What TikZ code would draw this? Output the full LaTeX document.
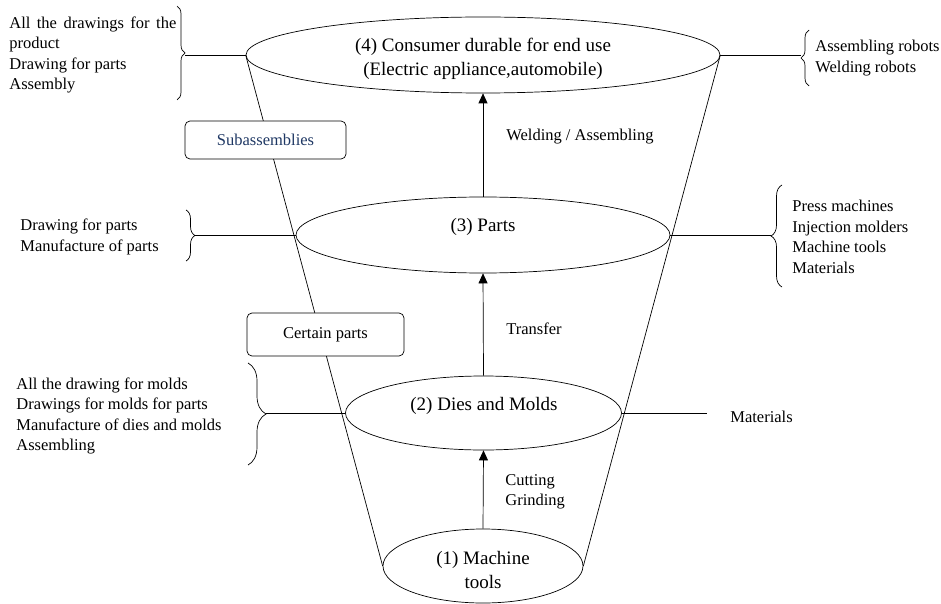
\documentclass[tikz,border=0pt]{standalone}
\usepackage{fontspec}
\setmainfont{Liberation Serif}
\usetikzlibrary{shapes.geometric,decorations.pathreplacing,arrows.meta}
\definecolor{subblue}{RGB}{31,56,100}
\begin{document}
\begin{tikzpicture}[x=1pt,y=-1pt, line width=0.7pt,
  ell/.style={draw, ellipse, inner sep=0pt},
  etxt/.style={inner sep=0pt, align=center, font=\fontsize{19}{24.5}\selectfont},
  lbl/.style={inner sep=0pt, align=left, font=\fontsize{16.5}{20.5}\selectfont},
  box/.style={draw, fill=white, rounded corners=5pt, inner sep=0pt, font=\fontsize{16.5}{20.5}\selectfont},
  brc/.style={decorate, decoration={brace, amplitude=#1}},
  arr/.style={-{Triangle[length=10pt,width=9pt]}}
]
\useasboundingbox (0,0) rectangle (941,604);

% ellipses
\node[ell, minimum width=474pt, minimum height=76pt] (top) at (483,55) {};
\node[ell, minimum width=374pt, minimum height=76pt] (parts) at (483,235) {};
\node[ell, minimum width=276pt, minimum height=74pt] (dies) at (483.5,413) {};
\node[ell, minimum width=200pt, minimum height=74pt] (mach) at (483,566) {};

% funnel sides
\draw (top.west) -- (mach.west);
\draw (top.east) -- (mach.east);

% ellipse texts
\node[etxt] (e4) at (483,59) {(4) Consumer durable for end use\\(Electric appliance,automobile)};
\node[etxt] (e3) at (483,227) {(3) Parts};
\node[etxt] (e2) at (484,406) {(2) Dies and Molds};
\node[etxt] (e1) at (483,570) {(1) Machine\\tools};

% arrows
\draw[arr] (mach.north) -- (dies.south);
\draw[arr] (dies.north) -- (parts.south);
\draw[arr] (parts.north) -- (top.south);

% boxes
\node[box, minimum width=161pt, minimum height=38pt, text=subblue] (sub) at (265.5,140) {Subassemblies};
\node[box, minimum width=157pt, minimum height=43pt] (cert) at (325.5,334.5) {Certain parts};

% braces and connectors
\draw[brc=8pt] (177,6) -- (177,100);
\coordinate (b1) at (185,53);
\draw (top.west) -- (top.west -| b1);

\draw[brc=8pt] (809,86) -- (809,30);
\coordinate (b2) at (801,58);
\draw (top.east) -- (top.east -| b2);

\draw[brc=9pt] (186,210) -- (186,261);
\coordinate (b3) at (195,235.5);
\draw (parts.west) -- (parts.west -| b3);

\draw[brc=11pt] (782,287) -- (782,185);
\coordinate (b4) at (771,236);
\draw (parts.east) -- (parts.east -| b4);

\draw[brc=18pt] (248,363) -- (248,465);
\coordinate (b5) at (266,414);
\draw (dies.west) -- (dies.west -| b5);

\coordinate (m) at (707,413);
\draw (dies.east) -- (m);

% side texts
\node[lbl, anchor=west] (t1) at (9,55) {\makebox[167pt][s]{All the drawings for the}\\product\\Drawing for parts\\Assembly};
\node[lbl, anchor=west] (t2) at (815,58) {Assembling robots\\Welding robots};
\node[lbl, anchor=west] (t3) at (20,237) {Drawing for parts\\Manufacture of parts};
\node[lbl, anchor=west] (t4) at (792,237) {Press machines\\Injection molders\\Machine tools\\Materials};
\node[lbl, anchor=west] (t5) at (16,416) {All the drawing for molds\\Drawings for molds for parts\\Manufacture of dies and molds\\Assembling};
\node[lbl, anchor=west] (t6) at (730,417) {Materials};

% arrow labels
\node[lbl, anchor=west] (l1) at (506,137) {Welding / Assembling};
\node[lbl, anchor=west] (l2) at (506,329) {Transfer};
\node[lbl, anchor=west] (l3) at (505,492) {Cutting\\Grinding};
\end{tikzpicture}
\end{document}
